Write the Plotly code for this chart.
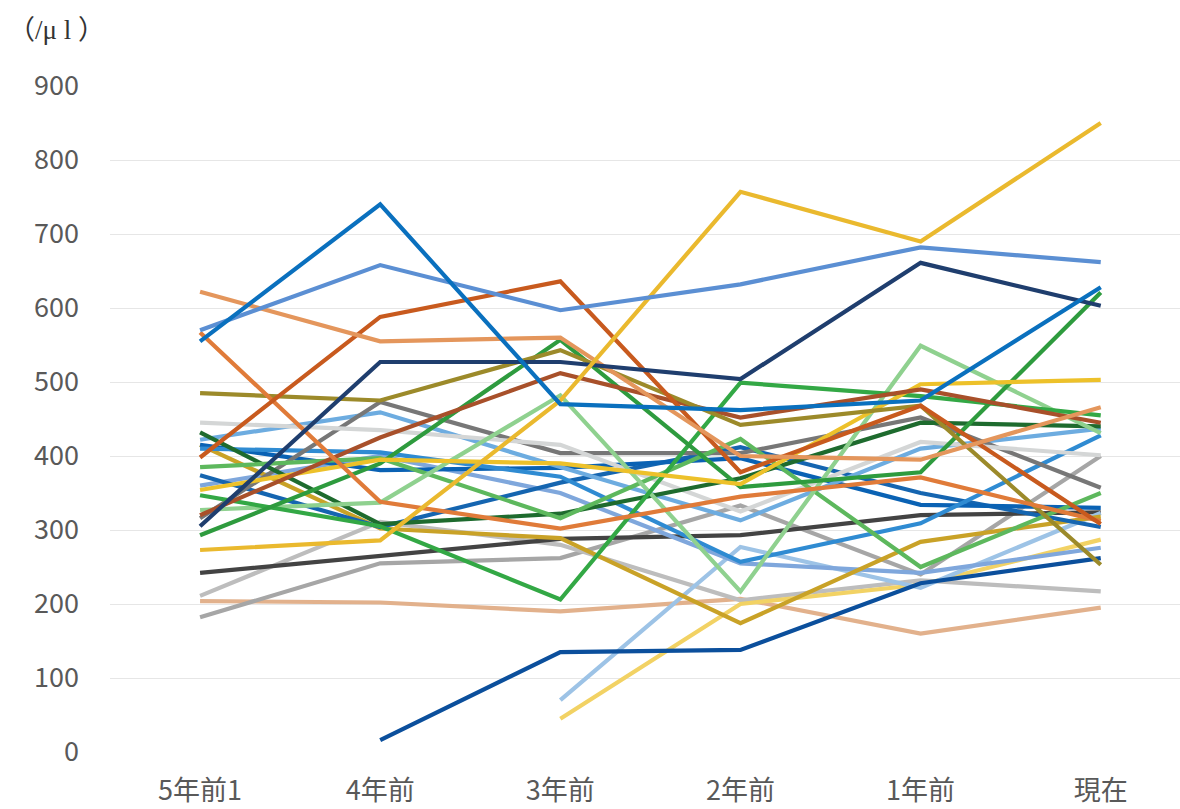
import plotly.graph_objects as go

categories = ["5年前1", "4年前", "3年前", "2年前", "1年前", "現在"]
y_ticks = [0, 100, 200, 300, 400, 500, 600, 700, 800, 900]
unit_label = "（/μ l ）"

# one list per patient, value per period (None = no measurement)
s_bright_blue = [555, 740, 470, 462, 475, 628]
s_medium_blue = [570, 658, 597, 632, 682, 662]
s_salmon = [622, 555, 560, 400, 395, 466]
s_rust = [398, 588, 636, 378, 468, 308]
s_orange = [567, 338, 302, 345, 371, 312]
s_olive = [485, 475, 543, 442, 468, 253]
s_brown = [320, 425, 512, 452, 490, 445]
s_navy = [305, 527, 527, 504, 661, 603]
s_gold_big = [273, 286, 475, 757, 690, 850]
s_yellow = [354, 395, 390, 362, 497, 503]
s_green_a = [293, 390, 557, 358, 378, 621]
s_green_b = [347, 305, 206, 499, 481, 455]
s_pale_green = [327, 337, 482, 217, 549, 431]
s_mid_green = [385, 397, 316, 423, 250, 350]
s_dark_green = [432, 308, 322, 370, 445, 440]
s_light_gray = [445, 435, 415, 325, 419, 401]
s_gray = [316, 473, 404, 404, 452, 357]
s_light_blue = [422, 459, 385, 313, 410, 437]
s_blue_c = [410, 405, 372, 257, 309, 428]
s_blue_d = [415, 381, 384, 397, 334, 330]
s_blue_e = [374, 304, 364, 412, 350, 304]
s_gold = [415, 302, 289, 174, 284, 318]
s_dark_gray = [242, 265, 288, 293, 320, 324]
s_gray_b = [211, 311, 280, 205, 232, 217]
s_gray_c = [182, 255, 262, 333, 240, 400]
s_tan = [204, 202, 190, 207, 160, 195]
s_dark_blue = [None, 16, 135, 138, 228, 262]
s_sky = [None, None, 70, 277, 222, 323]
s_light_yellow = [None, None, 45, 200, 226, 287]
s_cornflower = [360, 400, 350, 255, 242, 276]

series = [
    (s_tan, "#E2B18C"),
    (s_gray_c, "#A6A6A6"),
    (s_gray_b, "#BDBDBD"),
    (s_dark_gray, "#434343"),
    (s_light_yellow, "#F2D264"),
    (s_sky, "#9DC3E6"),
    (s_dark_blue, "#0B4F9C"),
    (s_cornflower, "#7FA7DC"),
    (s_gold, "#C9A227"),
    (s_blue_e, "#1565B0"),
    (s_blue_d, "#0A62B4"),
    (s_blue_c, "#2F8BD2"),
    (s_light_blue, "#6DACE0"),
    (s_gray, "#777777"),
    (s_light_gray, "#D4D6D6"),
    (s_dark_green, "#1E6B2E"),
    (s_mid_green, "#5DB85D"),
    (s_pale_green, "#8FD18F"),
    (s_green_b, "#33A845"),
    (s_green_a, "#2E9B3E"),
    (s_yellow, "#EDC12A"),
    (s_brown, "#A8502A"),
    (s_olive, "#9C8A2A"),
    (s_orange, "#E07B39"),
    (s_rust, "#C85A1E"),
    (s_salmon, "#E4965C"),
    (s_navy, "#1F3E6E"),
    (s_gold_big, "#EAB92E"),
    (s_medium_blue, "#5B8FD3"),
    (s_bright_blue, "#0A70BE"),
]

fig = go.Figure()
for vals, col in series:
    fig.add_trace(go.Scatter(
        x=categories, y=vals, mode="lines",
        line=dict(color=col, width=4.2),
        connectgaps=False, showlegend=False, hoverinfo="skip",
    ))

fig.update_layout(
    width=1180, height=809,
    margin=dict(l=110, r=0, t=86, b=57),
    paper_bgcolor="white", plot_bgcolor="white",
    font=dict(family="Noto Sans CJK JP, Noto Sans, sans-serif", color="#595959", size=27),
    annotations=[dict(
        text=unit_label, xref="paper", yref="paper", x=-0.097, y=1.0,
        xanchor="left", yanchor="middle", yshift=56, showarrow=False,
        font=dict(family="Liberation Serif, Noto Sans CJK JP, serif", size=27, color="#333333"),
    )],
)
fig.update_xaxes(
    type="category", range=[-0.5, 5.44], showgrid=False, showline=False,
    zeroline=False, ticks="", ticklabelstandoff=20,
    tickfont=dict(size=27, color="#595959"),
)
fig.update_yaxes(
    range=[0, 900], tickvals=y_ticks, showgrid=True, gridcolor="#E6E6E6",
    gridwidth=1, zeroline=False, showline=False, ticks="",
    ticklabelstandoff=30, tickfont=dict(size=27, color="#595959"),
)

fig.write_html("out.html")
